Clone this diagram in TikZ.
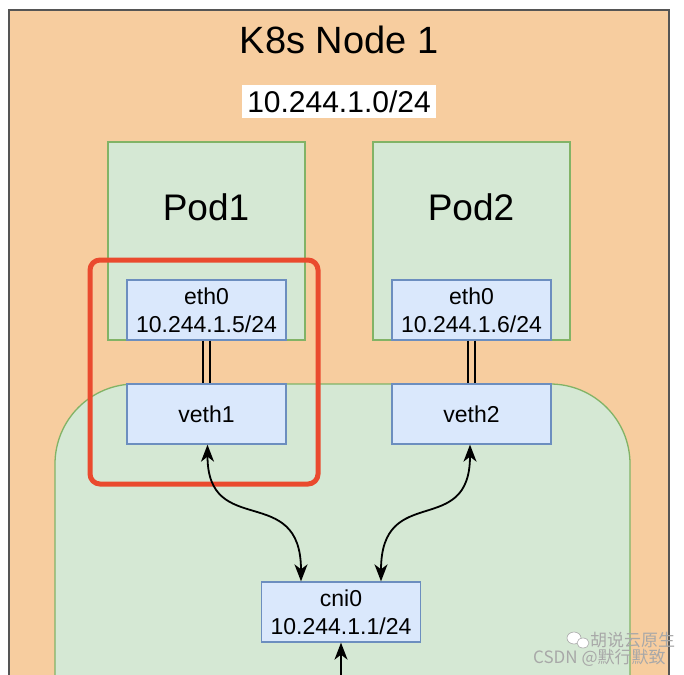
\documentclass[tikz,border=0pt]{standalone}
\usepackage{fontspec}
\setmainfont{Liberation Sans}
\newfontfamily\cjkfont{Noto Sans CJK SC}
\usetikzlibrary{arrows.meta}

\definecolor{hostfill}{HTML}{F7CD9F}
\definecolor{hostline}{HTML}{555555}
\definecolor{podfill}{HTML}{D5E8D4}
\definecolor{podline}{HTML}{82B366}
\definecolor{ifill}{HTML}{DAE8FC}
\definecolor{iline}{HTML}{6C8EBF}
\definecolor{focus}{HTML}{EA4A2E}
\definecolor{mark}{HTML}{A8A8A8}

\tikzset{
  podbox/.style={draw=podline, fill=podfill, line width=1.3pt,
    minimum width=197pt, minimum height=198pt, inner sep=0pt},
  ifbox/.style={draw=iline, fill=ifill, line width=1.3pt,
    minimum width=159pt, minimum height=60pt, inner sep=0pt, align=center,
    font=\fontsize{23}{28}\selectfont},
  podlabel/.style={font=\fontsize{37}{40}\selectfont, inner sep=0pt},
  pairline/.style={line width=1.6pt, black},
  tip/.style={Stealth[length=17pt,width=13pt,inset=5pt]},
  link/.style={line width=1.8pt, black, {Stealth[length=17pt,width=13pt,inset=5pt]}-{Stealth[length=17pt,width=13pt,inset=5pt]}},
  uplink/.style={line width=1.8pt, black, -{Stealth[length=17pt,width=13pt,inset=5pt]}},
  wmark/.style={text=mark, inner sep=0pt, font=\cjkfont\fontsize{17}{19}\selectfont}
}

\begin{document}
\begin{tikzpicture}[x=1pt, y=-1pt]
\useasboundingbox (0,0) rectangle (684,674);

% host machine and the cni0 bridge area, both running past the lower edge
\begin{scope}
  \clip (0,0) rectangle (684,674);
  \draw[hostline, fill=hostfill, line width=1.6pt] (9,10) rectangle (669,720);
  \draw[podline, fill=podfill, line width=1.3pt, rounded corners=80pt]
    (55,384) rectangle (630,760);
\end{scope}

% headings
\node[font=\fontsize{38}{42}\selectfont, inner sep=0pt] (title) at (339,40) {K8s Node 1};
\node[fill=white, minimum width=194pt, minimum height=33pt, inner sep=0pt,
      font=\fontsize{30}{32}\selectfont] (subnet) at (339,101.5) {10.244.1.0/24};

% pods
\node[podbox] (pod1) at (206.5,241) {};
\node[podbox] (pod2) at (471.5,241) {};
\node[podlabel] (pod1label) at (206,207) {Pod1};
\node[podlabel] (pod2label) at (471,207) {Pod2};

% interfaces
\node[ifbox] (eth1) at (206.5,310) {eth0\\10.244.1.5/24};
\node[ifbox] (eth2) at (471.5,310) {eth0\\10.244.1.6/24};
\node[ifbox] (veth1) at (206.5,414) {veth1};
\node[ifbox] (veth2) at (471.5,414) {veth2};
\node[ifbox] (cni) at (341,612) {cni0\\10.244.1.1/24};

% veth pairs
\draw[pairline] ([xshift=-3.5pt]eth1.south) -- ([xshift=-3.5pt]veth1.north);
\draw[pairline] ([xshift=3.5pt]eth1.south) -- ([xshift=3.5pt]veth1.north);
\draw[pairline] ([xshift=-3.5pt]eth2.south) -- ([xshift=-3.5pt]veth2.north);
\draw[pairline] ([xshift=3.5pt]eth2.south) -- ([xshift=3.5pt]veth2.north);

% highlight around the first pair
\draw[focus, line width=5pt, rounded corners=10pt] (90,260) rectangle (318,484);

% links to the bridge
\coordinate (cniL) at ([xshift=-40pt]cni.north);
\coordinate (cniR) at ([xshift=40pt]cni.north);
\draw[link] ([xshift=1pt]veth1.south) .. controls +(0,95) and +(0,-100) .. (cniL);
\draw[link] ([xshift=-1.5pt]veth2.south) .. controls +(0,95) and +(0,-100) .. (cniR);
\coordinate (below) at (341,690);
\begin{scope}
  \clip (0,0) rectangle (684,674);
  \draw[uplink] (below) -- (cni.south);
\end{scope}

% watermark
\node[wmark, anchor=west] (wm1) at (590,640) {胡说云原生};
\node[wmark, anchor=west] (wm2) at (533,658) {CSDN @默行默致};
\fill[white, draw=mark, line width=0.6pt] (574,638) ellipse (7pt and 6pt);
\fill[white, draw=mark, line width=0.6pt] (583,643) ellipse (6pt and 5pt);
\end{tikzpicture}
\end{document}
